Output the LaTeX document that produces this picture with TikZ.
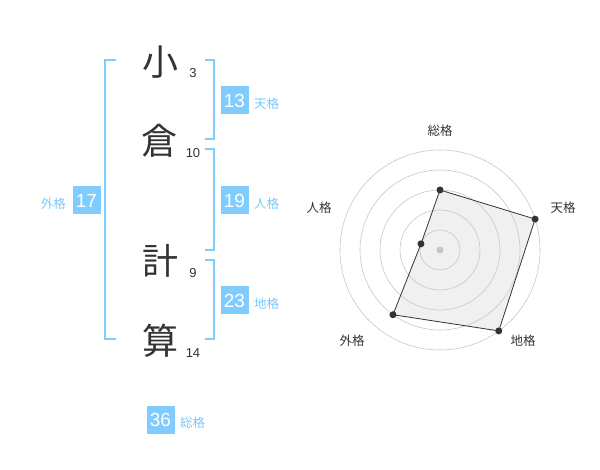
\documentclass[tikz,border=0pt]{standalone}
\usepackage{fontspec}
\setmainfont{Liberation Sans}
\newfontfamily\jp{Noto Sans CJK JP}
\definecolor{kblue}{HTML}{80CCFF}
\definecolor{klab}{HTML}{7CC8F8}
\definecolor{ktxt}{HTML}{333333}
\begin{document}
\begin{tikzpicture}[x=1pt,y=-1pt,
  kanji/.style={font=\jp\fontsize{36}{36}\selectfont, text=ktxt, inner sep=0pt},
  stroke/.style={font=\fontsize{13}{13}\selectfont, text=ktxt, inner sep=0pt},
  numbox/.style={fill=kblue, text=white, minimum width=28pt, minimum height=28pt, inner sep=0pt, font=\fontsize{19}{19}\selectfont},
  kaku/.style={font=\jp\fontsize{12.5}{12.5}\selectfont, text=klab, inner sep=0pt},
  brk/.style={draw=kblue, line width=2pt},
  ring/.style={draw=black!22, line width=0.6pt},
  rlab/.style={font=\jp\fontsize{12.5}{12.5}\selectfont, text=ktxt, inner sep=0pt},
  dot/.style={circle, fill=ktxt, inner sep=0pt, minimum size=7pt}]
\useasboundingbox (0,0) rectangle (600,470);
% characters
\node[kanji] (c1) at (160,62) {小};
\node[kanji] (c2) at (159,141) {倉};
\node[kanji] (c3) at (160,261) {計};
\node[kanji] (c4) at (160,341) {算};
\node[stroke] (s1) at (193,73) {3};
\node[stroke] (s2) at (193,153) {10};
\node[stroke] (s3) at (193,273) {9};
\node[stroke] (s4) at (193,353) {14};
% brackets
\coordinate (la) at (116,60); \coordinate (lb) at (116,339);
\draw[brk] (la) -- (105,60) -- (105,339) -- (lb);
\coordinate (t1) at (205,60); \coordinate (t2) at (205,139);
\draw[brk] (t1) -- (214,60) -- (214,139) -- (t2);
\coordinate (j1) at (205,149); \coordinate (j2) at (205,250);
\draw[brk] (j1) -- (214,149) -- (214,250) -- (j2);
\coordinate (d1) at (205,260); \coordinate (d2) at (205,339);
\draw[brk] (d1) -- (214,260) -- (214,339) -- (d2);
% boxes
\node[numbox] (b13) at (234.5,100.5) {13};
\node[kaku, anchor=west] (k13) at (254,104) {天格};
\node[numbox] (b19) at (234.5,200.5) {19};
\node[kaku, anchor=west] (k19) at (254,204) {人格};
\node[numbox] (b23) at (234.5,300.5) {23};
\node[kaku, anchor=west] (k23) at (254,304) {地格};
\node[numbox] (b17) at (86.5,200.5) {17};
\node[kaku, anchor=east] (k17) at (66,204) {外格};
\node[numbox] (b36) at (160.5,419.5) {36};
\node[kaku, anchor=west] (k36) at (180,423) {総格};
% radar
\coordinate (o) at (440,250);
\path (o) ++(-90:60) coordinate (p1);
\path (o) ++(-18:100) coordinate (p2);
\path (o) ++(54:100) coordinate (p3);
\path (o) ++(126:80) coordinate (p4);
\path (o) ++(198:20) coordinate (p5);
\fill[black!6] (p1) -- (p2) -- (p3) -- (p4) -- (p5) -- cycle;
\foreach \r in {20,40,60,80,100} \draw[ring] (o) circle[radius=\r];
\draw[draw=ktxt, line width=0.8pt] (p1) -- (p2) -- (p3) -- (p4) -- (p5) -- cycle;
\node[circle, fill=black!22, inner sep=0pt, minimum size=7pt] (oc) at (o) {};
\foreach \p in {p1,p2,p3,p4,p5} \node[dot] at (\p) {};
\node[rlab] (r1) at (440,131) {総格};
\node[rlab] (r2) at (563,208) {天格};
\node[rlab] (r3) at (523,341) {地格};
\node[rlab] (r4) at (352,341) {外格};
\node[rlab] (r5) at (319,208) {人格};
\end{tikzpicture}
\end{document}
